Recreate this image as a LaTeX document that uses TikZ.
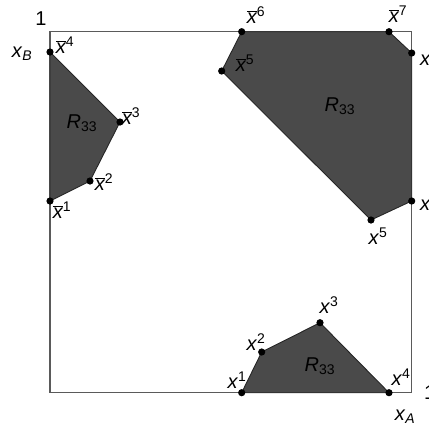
\documentclass[tikz,border=0pt]{standalone}
\usepackage{fontspec}
\setmainfont{Liberation Sans}
\definecolor{regfill}{HTML}{4A4A4A}
\definecolor{framegray}{HTML}{5A5A5A}
\newcommand{\xbar}[1]{$\overline{\mbox{\itshape x}}$\textsuperscript{#1}}
\newcommand{\xpt}[1]{\textit{x}\textsuperscript{#1}}
\newcommand{\Rreg}{\textit{R}\textsubscript{33}}

\begin{document}
\begin{tikzpicture}[x=1pt, y=-1pt, font=\fontsize{20}{23}\selectfont,
  lbl/.style={inner sep=0pt},
  region/.style={fill=regfill, draw=black!85, line width=0.9pt, line join=round}]
\useasboundingbox (0,0) rectangle (429,432);
\draw[line width=1.3pt, framegray] (50,31.7) rectangle (411.7,392.7);
% left region
\coordinate (L1) at (50,201); \coordinate (L2) at (90,181); \coordinate (L3) at (120,122); \coordinate (L4) at (50,52);
\filldraw[region] (L1) -- (L2) -- (L3) -- (L4) -- cycle;
% upper right region
\coordinate (T5) at (221.7,71); \coordinate (T6) at (241.7,31.7); \coordinate (T7) at (389,31.7); \coordinate (T8) at (411.7,53); \coordinate (T9) at (411.7,201); \coordinate (T10) at (371,220);
\filldraw[region] (T5) -- (T6) -- (T7) -- (T8) -- (T9) -- (T10) -- cycle;
% bottom region
\coordinate (B1) at (241.7,392.7); \coordinate (B2) at (261.7,352); \coordinate (B3) at (320,322.7); \coordinate (B4) at (389,392.7);
\filldraw[region] (B1) -- (B2) -- (B3) -- (B4) -- cycle;
\foreach \p in {L1,L2,L3,L4,T5,T6,T7,T8,T9,T10,B1,B2,B3,B4} \fill (\p) circle (3.6);
% labels
\node[lbl] (one) at (41,19) {1}; \node[lbl] (xB) at (22,54) {\textit{x}\textsubscript{\textit{B}}};
\node[lbl] (lx4) at (65,45) {\xbar{4}}; \node[lbl] (lx3) at (131,116) {\xbar{3}}; \node[lbl] (lx2) at (104,182) {\xbar{2}}; \node[lbl] (lx1) at (62,210) {\xbar{1}};
\node[lbl] (rl) at (82,123) {\Rreg};
\node[lbl] (ux6) at (256,15) {\xbar{6}}; \node[lbl] (ux7) at (398,14) {\xbar{7}}; \node[lbl] (ux5) at (245,63) {\xbar{5}};
\node[lbl] (ru) at (340,106) {\Rreg};
\node[lbl, anchor=west] (ux8) at (420,57) {\xpt{8}}; \node[lbl, anchor=west] (ux9) at (420,202) {\xpt{6}};
\node[lbl] (px5) at (378,236) {\xpt{5}};
\node[lbl] (bx1) at (237,380) {\xpt{1}}; \node[lbl] (bx2) at (256,342) {\xpt{2}}; \node[lbl] (bx3) at (329,305) {\xpt{3}}; \node[lbl] (bx4) at (401,377) {\xpt{4}};
\node[lbl] (rb) at (320,366) {\Rreg};
\node[lbl] (xA) at (405,417) {\textit{x}\textsubscript{\textit{A}}}; \node[lbl, anchor=west] (oneA) at (424,393) {1};
\end{tikzpicture}
\end{document}
